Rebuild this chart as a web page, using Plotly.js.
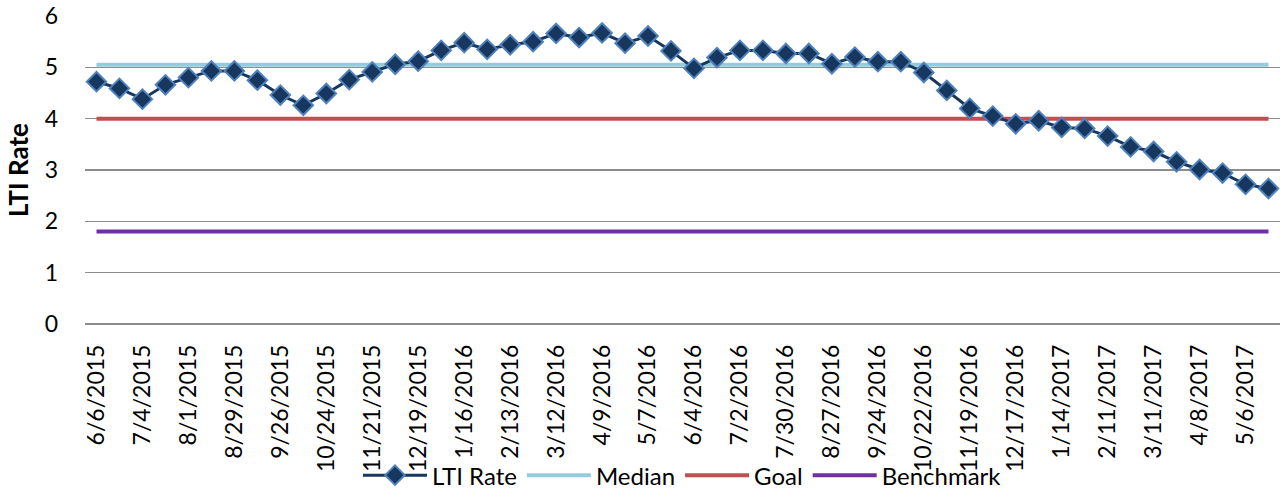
<!DOCTYPE html>
<html>
<head>
<meta charset="utf-8">
<script src="https://cdn.plot.ly/plotly-3.0.1.min.js"></script>
<style>html,body{margin:0;padding:0;background:#fff;}#chart{width:1280px;height:489px;}</style>
</head>
<body>
<div id="chart"></div>
<script>
const dates = [
  "6/6/2015","6/20/2015","7/4/2015","7/18/2015","8/1/2015","8/15/2015","8/29/2015","9/12/2015",
  "9/26/2015","10/10/2015","10/24/2015","11/7/2015","11/21/2015","12/5/2015","12/19/2015","1/2/2016",
  "1/16/2016","1/30/2016","2/13/2016","2/27/2016","3/12/2016","3/26/2016","4/9/2016","4/23/2016",
  "5/7/2016","5/21/2016","6/4/2016","6/18/2016","7/2/2016","7/16/2016","7/30/2016","8/13/2016",
  "8/27/2016","9/10/2016","9/24/2016","10/8/2016","10/22/2016","11/5/2016","11/19/2016","12/3/2016",
  "12/17/2016","12/31/2016","1/14/2017","1/28/2017","2/11/2017","2/25/2017","3/11/2017","3/25/2017",
  "4/8/2017","4/22/2017","5/6/2017","5/20/2017"
];
const ltiRate = [
  4.72,4.59,4.38,4.66,4.80,4.93,4.93,4.75,
  4.46,4.26,4.49,4.76,4.91,5.06,5.12,5.33,
  5.48,5.35,5.44,5.50,5.66,5.58,5.67,5.47,
  5.61,5.32,4.98,5.19,5.33,5.33,5.27,5.27,
  5.07,5.20,5.11,5.11,4.90,4.55,4.20,4.05,
  3.90,3.96,3.83,3.81,3.66,3.45,3.36,3.16,
  3.01,2.94,2.72,2.64
];
const medianValue = 5.05;
const goalValue = 4.0;
const benchmarkValue = 1.8;
const tickLabels = dates.filter((d, i) => i % 2 === 0);

const median = dates.map(() => medianValue);
const goal = dates.map(() => goalValue);
const benchmark = dates.map(() => benchmarkValue);

const FONT = "Lato, 'Liberation Sans', sans-serif";

const traces = [
  {x: dates, y: ltiRate, name: "LTI Rate", type: "scatter", mode: "lines+markers",
   line: {color: "#17375E", width: 3}, legendrank: 1,
   marker: {symbol: "diamond", size: 15, color: "#17375E", line: {color: "#4F81BD", width: 2}}},
  {x: dates, y: median, name: "Median", type: "scatter", mode: "lines", legendrank: 2,
   line: {color: "#93CDDD", width: 4}},
  {x: dates, y: goal, name: "Goal", type: "scatter", mode: "lines", legendrank: 3,
   line: {color: "#C0504D", width: 4}},
  {x: dates, y: benchmark, name: "Benchmark", type: "scatter", mode: "lines", legendrank: 4,
   line: {color: "#7030A0", width: 4}}
];
// keep LTI Rate drawn on top
const ordered = [traces[1], traces[2], traces[3], traces[0]];

const layout = {
  width: 1280, height: 489,
  margin: {l: 85, r: 0, t: 16, b: 165, autoexpand: false},
  paper_bgcolor: "#fff", plot_bgcolor: "#fff",
  font: {family: FONT, size: 23, color: "#000"},
  showlegend: true,
  legend: {orientation: "h", x: 0.5, xanchor: "center", y: -0.492, yanchor: "middle",
           itemwidth: 64, font: {family: FONT, size: 24}, bgcolor: "rgba(0,0,0,0)"},
  xaxis: {type: "category", categoryorder: "array", categoryarray: dates,
          range: [-0.5, dates.length - 0.5], automargin: false,
          tickmode: "array", tickvals: tickLabels, ticktext: tickLabels,
          tickangle: -90, showgrid: false, zeroline: false,
          showline: false, ticks: "", ticklabelstandoff: 15,
          tickfont: {family: FONT, size: 23}},
  yaxis: {range: [0, 6], dtick: 1, tick0: 0, showgrid: true, gridcolor: "#8C8C8C", gridwidth: 1.5,
          zeroline: true, zerolinecolor: "#8C8C8C", zerolinewidth: 2, automargin: false,
          showline: false, ticks: "", ticklabelstandoff: 26,
          tickfont: {family: FONT, size: 23},
          title: {text: "<b>LTI Rate</b>", font: {family: FONT, size: 26}, standoff: 8}}
};

Plotly.newPlot("chart", ordered, layout, {displayModeBar: false, staticPlot: true});
</script>
</body>
</html>
